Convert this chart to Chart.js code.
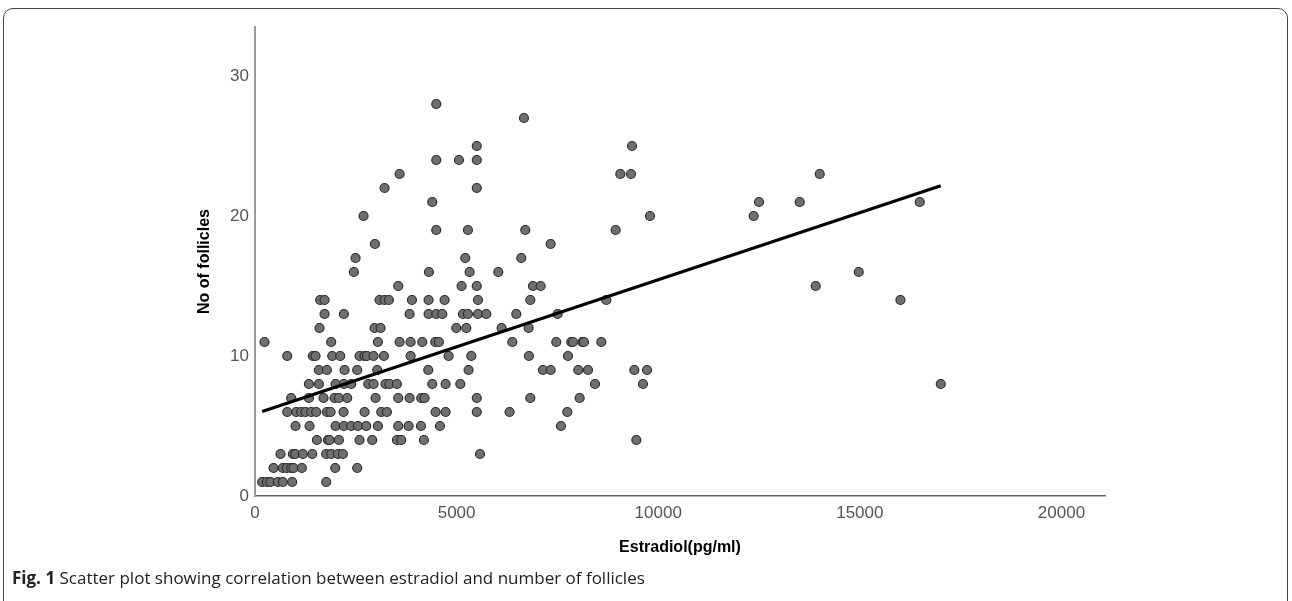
<!DOCTYPE html>
<html>
<head>
<meta charset="utf-8">
<script src="https://cdn.jsdelivr.net/npm/chart.js@4.4.0/dist/chart.umd.min.js"></script>
<style>
  html, body { margin: 0; padding: 0; background: #fff; }
  body { width: 1292px; height: 601px; position: relative; overflow: hidden; }
  #frame { position: absolute; left: 3px; top: 8px; width: 1283px; height: 640px;
           border: 1px solid #444; border-radius: 10px; }
  #chart { position: absolute; left: 0; top: 0; }
  #caption { position: absolute; left: 12px; top: 566px; font-family: "Open Sans"; font-size: 17px;
             color: #222; white-space: nowrap; }
  #caption b { font-weight: 700; }
</style>
</head>
<body>
<div id="frame"></div>
<canvas id="chart" width="1292" height="601"></canvas>
<div id="caption"><b>Fig. 1</b> Scatter plot showing correlation between estradiol and number of follicles</div>
<script>
// follicle counts and the estradiol values (pg/ml) seen at each count
var follicleCounts = [28, 27, 25, 24, 23, 22, 21, 20, 19, 18, 17, 16, 15, 14, 13, 12, 11, 10, 9, 8, 7, 6, 5, 4, 3, 2, 1];
var estradiolAt28 = [4495];
var estradiolAt27 = [6670];
var estradiolAt25 = [5500, 9350];
var estradiolAt24 = [4495, 5058, 5500];
var estradiolAt23 = [3586, 9060, 9325, 14005];
var estradiolAt22 = [3213, 5500];
var estradiolAt21 = [4396, 12500, 13509, 16486];
var estradiolAt20 = [2692, 9796, 12368];
var estradiolAt19 = [4495, 5281, 6703, 8944];
var estradiolAt18 = [2974, 7332];
var estradiolAt17 = [2494, 5215, 6604];
var estradiolAt16 = [2452, 4313, 5322, 6033, 14973];
var estradiolAt15 = [3552, 5124, 5500, 6893, 7084, 13906];
var estradiolAt14 = [1617, 1725, 3089, 3213, 3321, 3892, 4305, 4702, 5530, 6827, 8713, 16007];
var estradiolAt13 = [1725, 2204, 3834, 4305, 4495, 4644, 5157, 5281, 5530, 5736, 6480, 7505];
var estradiolAt12 = [1601, 2965, 3114, 4991, 5240, 6116, 6786];
var estradiolAt11 = [236, 1890, 3048, 3586, 3859, 4148, 4470, 4561, 6381, 7472, 7844, 7886, 8117, 8159, 8589];
var estradiolAt10 = [799, 1435, 1501, 1915, 2113, 2593, 2717, 2775, 2940, 3197, 3859, 4801, 5364, 6794, 7762];
var estradiolAt9 = [1584, 1783, 2221, 2535, 3031, 4297, 5297, 7141, 7332, 8018, 8258, 9407, 9722];
var estradiolAt8 = [1336, 1584, 1998, 2204, 2386, 2808, 2940, 3238, 3337, 3519, 4396, 4727, 5091, 8432, 9622, 17007];
var estradiolAt7 = [898, 1336, 1700, 1973, 2080, 2287, 2990, 3552, 3834, 4123, 4206, 5500, 6827, 8051];
var estradiolAt6 = [799, 1022, 1146, 1253, 1394, 1518, 1783, 1874, 2196, 2717, 3131, 3271, 4479, 4727, 5500, 6314, 7745];
var estradiolAt5 = [1005, 1353, 1998, 2204, 2386, 2552, 2759, 3048, 3552, 3809, 4115, 4586, 7588];
var estradiolAt4 = [1535, 1808, 1849, 2080, 2593, 2907, 3519, 3627, 4189, 9457];
var estradiolAt3 = [633, 939, 997, 1187, 1419, 1766, 1890, 2056, 2180, 5580];
var estradiolAt2 = [460, 691, 790, 898, 956, 1162, 1989, 2535];
var estradiolAt1 = [178, 294, 385, 567, 691, 923, 1766];

var estradiolByCount = [estradiolAt28, estradiolAt27, estradiolAt25, estradiolAt24, estradiolAt23,
  estradiolAt22, estradiolAt21, estradiolAt20, estradiolAt19, estradiolAt18, estradiolAt17,
  estradiolAt16, estradiolAt15, estradiolAt14, estradiolAt13, estradiolAt12, estradiolAt11,
  estradiolAt10, estradiolAt9, estradiolAt8, estradiolAt7, estradiolAt6, estradiolAt5,
  estradiolAt4, estradiolAt3, estradiolAt2, estradiolAt1];

// fit line ends
var fitEstradiol = [178, 17007];
var fitFollicles = [6.03, 22.16];

var xTicks = [0, 5000, 10000, 15000, 20000];
var yTicks = [0, 10, 20, 30];

var points = [];
for (var i = 0; i < follicleCounts.length; i++) {
  var row = estradiolByCount[i];
  for (var j = 0; j < row.length; j++) {
    points.push({ x: row[j], y: follicleCounts[i] });
  }
}
var fitLine = [];
for (var k = 0; k < fitEstradiol.length; k++) {
  fitLine.push({ x: fitEstradiol[k], y: fitFollicles[k] });
}

function keepTicks(list) {
  return function (scale) {
    scale.ticks = list.map(function (v) { return { value: v }; });
  };
}

var tickFont = { family: "'Liberation Sans', Arial, sans-serif", size: 17 };
var titleFont = { family: "'Liberation Sans', Arial, sans-serif", size: 16, weight: "bold" };

new Chart(document.getElementById("chart").getContext("2d"), {
  type: "scatter",
  data: {
    datasets: [
      {
        type: "line",
        data: fitLine,
        borderColor: "#000",
        borderWidth: 3.2,
        pointRadius: 0,
        fill: false,
        tension: 0
      },
      {
        data: points,
        pointRadius: 4.5,
        pointBackgroundColor: "#6f6f6f",
        pointBorderColor: "#2e2e2e",
        pointBorderWidth: 1.2
      }
    ]
  },
  options: {
    responsive: false,
    animation: false,
    devicePixelRatio: 1,
    layout: { padding: { left: 180, right: 187, top: 27, bottom: 35 } },
    plugins: { legend: { display: false }, tooltip: { enabled: false } },
    scales: {
      x: {
        type: "linear",
        min: 0,
        max: 21080,
        afterBuildTicks: keepTicks(xTicks),
        afterFit: function (s) { s.height = 70; },
        grid: { display: false, drawTicks: false },
        border: { display: true, color: "#666", width: 1.5 },
        ticks: {
          padding: 7,
          maxRotation: 0,
          autoSkip: false,
          font: tickFont,
          color: "#555",
          callback: function (v) { return String(v); }
        },
        title: {
          display: true,
          text: "Estradiol(pg/ml)",
          font: titleFont,
          color: "#000",
          padding: { top: 0, bottom: 8.4 }
        }
      },
      y: {
        type: "linear",
        min: 0,
        max: 33.5,
        afterBuildTicks: keepTicks(yTicks),
        afterFit: function (s) { s.width = 75; },
        grid: { display: false, drawTicks: false },
        border: { display: true, color: "#999", width: 2 },
        ticks: {
          padding: 6,
          autoSkip: false,
          font: tickFont,
          color: "#555",
          callback: function (v) { return String(v); }
        },
        title: {
          display: true,
          text: "No of follicles",
          font: titleFont,
          color: "#000",
          padding: { top: 15.4, bottom: 0 }
        }
      }
    }
  }
});
</script>
</body>
</html>
